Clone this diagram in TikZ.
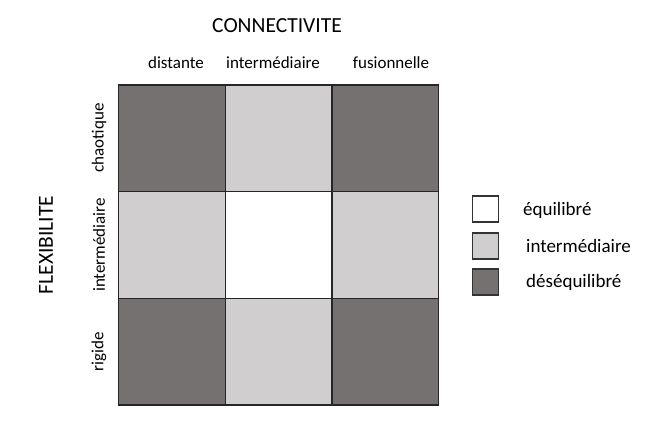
\documentclass[tikz,border=0pt]{standalone}
\usepackage{fontspec}
\setmainfont{Carlito}
\begin{document}
\begin{tikzpicture}[x=1pt,y=-1pt,
  cell/.style={draw=black!85,line width=1.3pt},
  dark/.style={cell,fill=darkg},
  light/.style={cell,fill=lightg},
  blank/.style={cell,fill=white},
  lbox/.style={draw=black!80,line width=1.1pt,minimum width=26pt,minimum height=26pt,inner sep=0pt},
  title/.style={font=\fontsize{21.5}{24}\selectfont,inner sep=0pt},
  axlab/.style={font=\fontsize{17}{20}\selectfont,inner sep=0pt},
  leglab/.style={font=\fontsize{19}{22}\selectfont,inner sep=0pt,anchor=west}]
\definecolor{darkg}{HTML}{757171}
\definecolor{lightg}{HTML}{D0CECE}
\useasboundingbox (0,0) rectangle (661,423);
% grid cells
\def\xa{118.5}\def\xb{225.3}\def\xc{332}\def\xd{438.8}
\def\ya{85}\def\yb{191.7}\def\yc{298.3}\def\yd{405}
\path[dark]  (\xa,\ya) rectangle (\xb,\yb);
\path[light] (\xb,\ya) rectangle (\xc,\yb);
\path[dark]  (\xc,\ya) rectangle (\xd,\yb);
\path[light] (\xa,\yb) rectangle (\xb,\yc);
\path[blank] (\xb,\yb) rectangle (\xc,\yc);
\path[light] (\xc,\yb) rectangle (\xd,\yc);
\path[dark]  (\xa,\yc) rectangle (\xb,\yd);
\path[light] (\xb,\yc) rectangle (\xc,\yd);
\path[dark]  (\xc,\yc) rectangle (\xd,\yd);
% titles
\node[title] (conn) at (277,26) {CONNECTIVITE};
\node[title,rotate=90] (flex) at (46,245) {FLEXIBILITE};
% column labels
\node[axlab] (c1) at (176,63) {distante};
\node[axlab] (c2) at (273,63) {intermédiaire};
\node[axlab] (c3) at (391,63) {fusionnelle};
% row labels
\node[axlab,rotate=90] (r1) at (99,138) {chaotique};
\node[axlab,rotate=90] (r2) at (99,245) {intermédiaire};
\node[axlab,rotate=90] (r3) at (99,352) {rigide};
% legend
\node[lbox,fill=white]  (l1) at (485.5,209) {};
\node[lbox,fill=lightg] (l2) at (485.5,246) {};
\node[lbox,fill=darkg]  (l3) at (485.5,282) {};
\node[leglab] (t1) at (523,210) {équilibré};
\node[leglab] (t2) at (526,246) {intermédiaire};
\node[leglab] (t3) at (526,282) {déséquilibré};
\end{tikzpicture}
\end{document}
